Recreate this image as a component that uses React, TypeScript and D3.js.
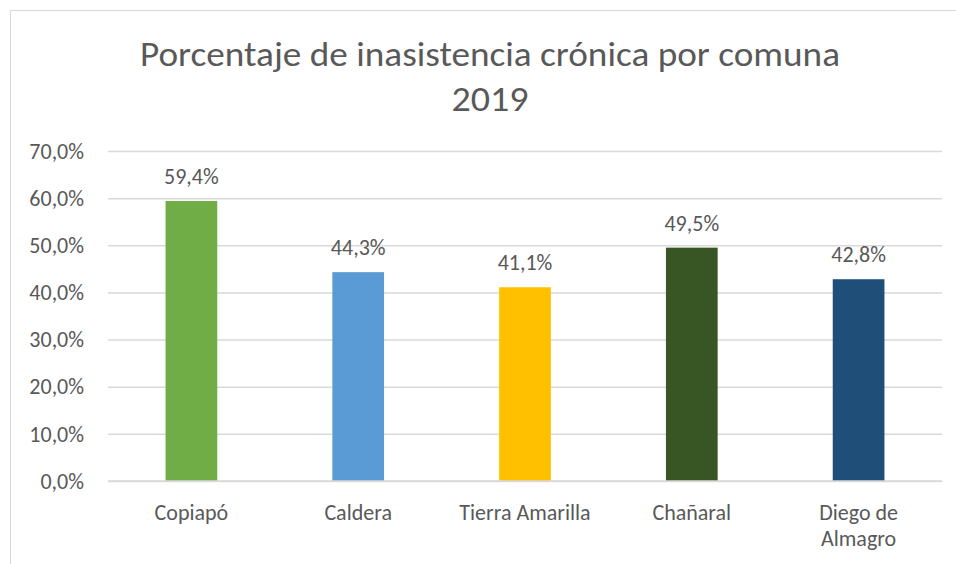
import React, { useEffect, useRef } from "react";
import * as d3 from "d3";

const comunas = ["Copiapó", "Caldera", "Tierra Amarilla", "Chañaral", "Diego de Almagro"];
const porcentajes = [59.4, 44.3, 41.1, 49.5, 42.8];
const colores = ["#70AD47", "#5B9BD5", "#FFC000", "#375623", "#1F4E79"];
const yTicks = [0, 10, 20, 30, 40, 50, 60, 70];
const tituloLineas = ["Porcentaje de inasistencia crónica por comuna", "2019"];

const fmt = (v: number) => v.toFixed(1).replace(".", ",") + "%";

function App(): JSX.Element {
  const ref = useRef<SVGSVGElement>(null);

  useEffect(() => {
    if (!ref.current) return;
    const svg = d3.select(ref.current);
    svg.selectAll("*").remove();

    const width = 956;
    const height = 564;
    const font = "Carlito, Calibri, Lato, sans-serif";
    const textColor = "#595959";
    const labelSize = 22;

    // chart frame
    svg
      .append("rect")
      .attr("x", 10.5)
      .attr("y", 10.5)
      .attr("width", width + 20)
      .attr("height", height + 20)
      .attr("fill", "white")
      .attr("stroke", "#d9d9d9");

    const x = d3
      .scaleBand<string>()
      .domain(comunas)
      .range([108, 942])
      .paddingInner(0.69)
      .paddingOuter(0.345);

    const y = d3.scaleLinear().domain([0, 70]).range([481, 151]);

    // title
    svg
      .append("g")
      .selectAll("text")
      .data(tituloLineas)
      .enter()
      .append("text")
      .attr("x", 490)
      .attr("y", (_, i) => 66 + i * 45)
      .attr("text-anchor", "middle")
      .attr("font-family", font)
      .attr("font-size", 34)
      .attr("fill", textColor)
      .attr("textLength", (_, i) => (i === 0 ? 700 : 77))
      .attr("lengthAdjust", "spacingAndGlyphs")
      .text((d) => d);

    // gridlines
    svg
      .append("g")
      .attr("transform", "translate(108,0)")
      .call(
        d3
          .axisLeft(y)
          .tickValues(yTicks)
          .tickSize(-834)
          .tickFormat(() => "")
      )
      .call((g) => g.select(".domain").remove())
      .call((g) =>
        g.selectAll(".tick line").attr("stroke", "#d9d9d9").attr("stroke-width", 1.5)
      );

    // y labels
    svg
      .append("g")
      .selectAll("text")
      .data(yTicks)
      .enter()
      .append("text")
      .attr("x", 84)
      .attr("y", (d) => y(d))
      .attr("dy", "0.35em")
      .attr("text-anchor", "end")
      .attr("font-family", font)
      .attr("font-size", labelSize)
      .attr("fill", textColor)
      .text((d) => fmt(d));

    // bars
    svg
      .append("g")
      .selectAll("rect")
      .data(porcentajes)
      .enter()
      .append("rect")
      .attr("x", (_, i) => x(comunas[i])!)
      .attr("y", (d) => y(d))
      .attr("width", x.bandwidth())
      .attr("height", (d) => y(0) - y(d))
      .attr("fill", (_, i) => colores[i]);

    // x axis line
    svg
      .append("line")
      .attr("x1", 108)
      .attr("x2", 942)
      .attr("y1", y(0))
      .attr("y2", y(0))
      .attr("stroke", "#d9d9d9")
      .attr("stroke-width", 1.5);

    // data labels
    svg
      .append("g")
      .selectAll("text")
      .data(porcentajes)
      .enter()
      .append("text")
      .attr("x", (_, i) => x(comunas[i])! + x.bandwidth() / 2)
      .attr("y", (d) => y(d) - 17)
      .attr("text-anchor", "middle")
      .attr("font-family", font)
      .attr("font-size", labelSize)
      .attr("fill", textColor)
      .text((d) => fmt(d));

    // category labels (wrap "Diego de Almagro")
    const cat = svg
      .append("g")
      .selectAll("text")
      .data(comunas)
      .enter()
      .append("text")
      .attr("x", (d) => x(d)! + x.bandwidth() / 2)
      .attr("y", 520)
      .attr("text-anchor", "middle")
      .attr("font-family", font)
      .attr("font-size", labelSize)
      .attr("fill", textColor);

    cat.each(function (d) {
      const el = d3.select(this);
      const lines = d === "Diego de Almagro" ? ["Diego de", "Almagro"] : [d];
      lines.forEach((l, i) => {
        el.append("tspan")
          .attr("x", x(d)! + x.bandwidth() / 2)
          .attr("dy", i === 0 ? 0 : 26)
          .text(l);
      });
    });
  }, []);

  return (
    <svg
      ref={ref}
      width={956}
      height={564}
      style={{ position: "absolute", left: 0, top: 0, background: "white" }}
    />
  );
}

export default App;
